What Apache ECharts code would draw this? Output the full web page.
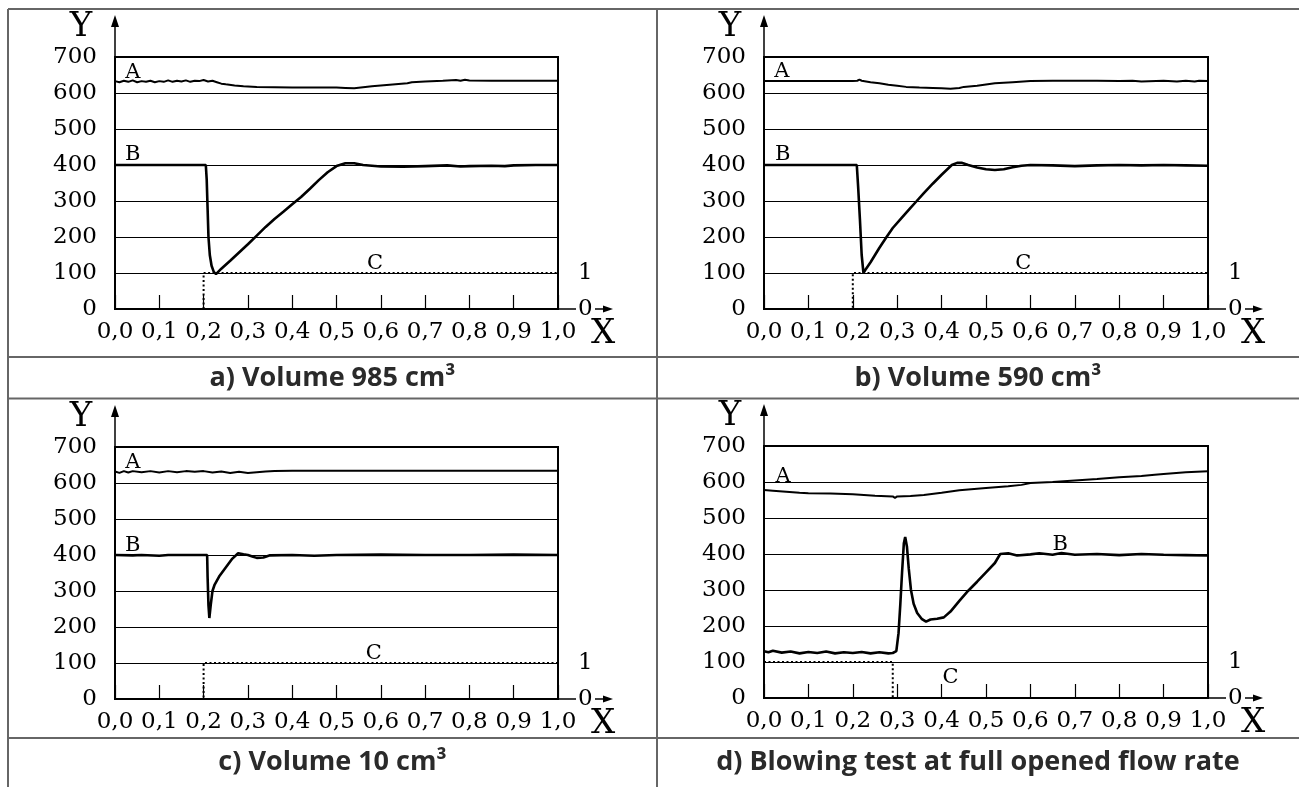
<!DOCTYPE html>
<html>
<head>
    <meta charset="utf-8">
    <title>index</title>
    <style>
        html, body { margin: 0; padding: 0; background: #fff; }
        #container { width: 1299px; height: 787px; }
    </style>
</head>
<body>
<div id="container"></div>
<script src="https://cdn.jsdelivr.net/npm/echarts@6.0.0/dist/echarts.min.js"></script>
<script type="text/javascript">
    // tick labels
    var xLabels = ['0,0', '0,1', '0,2', '0,3', '0,4', '0,5', '0,6', '0,7', '0,8', '0,9', '1,0'];
    var yTicks = [0, 100, 200, 300, 400, 500, 600, 700];
    var cTicks = [0, 1];

    // a) Volume 985 cm3
    var aA = [[0, 633], [0.01, 630], [0.02, 634], [0.03, 631], [0.04, 635], [0.05, 630], [0.06, 633], [0.07, 631],
        [0.08, 634], [0.09, 630], [0.10, 633], [0.11, 631], [0.12, 635], [0.13, 631], [0.14, 634], [0.15, 632],
        [0.16, 635], [0.17, 631], [0.18, 634], [0.19, 633], [0.20, 636], [0.21, 632], [0.22, 634], [0.23, 630],
        [0.24, 626], [0.25, 624], [0.27, 621], [0.29, 619], [0.32, 617], [0.36, 616], [0.40, 615], [0.45, 615],
        [0.50, 615], [0.52, 614], [0.54, 613], [0.56, 616], [0.58, 619], [0.62, 623], [0.66, 627], [0.67, 630],
        [0.70, 632], [0.74, 634], [0.77, 636], [0.78, 634], [0.79, 637], [0.80, 635], [0.85, 634], [0.90, 634],
        [0.95, 634], [1.0, 634]];
    var aB = [[0, 400], [0.205, 400], [0.207, 360], [0.209, 280], [0.211, 200], [0.214, 150], [0.218, 120],
        [0.223, 103], [0.228, 97], [0.24, 112], [0.26, 134], [0.28, 157], [0.30, 180], [0.32, 204], [0.34, 228],
        [0.36, 250], [0.38, 270], [0.40, 291], [0.42, 311], [0.44, 334], [0.46, 358], [0.48, 380], [0.50, 397],
        [0.52, 405], [0.54, 405], [0.56, 400], [0.60, 396], [0.65, 395], [0.70, 397], [0.75, 399], [0.78, 396],
        [0.80, 397], [0.85, 398], [0.88, 397], [0.90, 399], [0.95, 400], [1.0, 400]];
    var aC = [[0.2, 0], [0.2, 1], [1.0, 1]];

    // b) Volume 590 cm3
    var bA = [[0, 633], [0.05, 633], [0.10, 633], [0.15, 633], [0.20, 633], [0.21, 634], [0.215, 637], [0.22, 634],
        [0.24, 630], [0.26, 627], [0.28, 623], [0.30, 620], [0.32, 617], [0.35, 615], [0.38, 614], [0.40, 613],
        [0.42, 612], [0.44, 614], [0.45, 617], [0.48, 620], [0.52, 627], [0.56, 630], [0.60, 633], [0.65, 634],
        [0.70, 634], [0.75, 634], [0.80, 633], [0.83, 634], [0.85, 632], [0.90, 634], [0.93, 632], [0.95, 634],
        [0.97, 632], [0.98, 634], [1.0, 633]];
    var bB = [[0, 400], [0.209, 400], [0.212, 340], [0.216, 250], [0.220, 150], [0.224, 100], [0.23, 112],
        [0.24, 130], [0.25, 150], [0.26, 170], [0.276, 200], [0.29, 225], [0.31, 253], [0.33, 281], [0.344, 300],
        [0.36, 322], [0.38, 348], [0.40, 373], [0.423, 400], [0.435, 406], [0.445, 406], [0.46, 400], [0.48, 393],
        [0.50, 388], [0.52, 386], [0.54, 388], [0.56, 394], [0.58, 398], [0.60, 400], [0.65, 399], [0.70, 397],
        [0.75, 399], [0.80, 400], [0.85, 399], [0.90, 400], [0.95, 399], [1.0, 398]];
    var bC = [[0, 0], [0.2, 0], [0.2, 1], [1.0, 1]];

    // c) Volume 10 cm3
    var cA = [[0, 632], [0.01, 628], [0.02, 633], [0.03, 629], [0.04, 633], [0.06, 630], [0.08, 633], [0.10, 629],
        [0.12, 633], [0.14, 630], [0.16, 633], [0.18, 631], [0.20, 633], [0.22, 629], [0.24, 632], [0.26, 628],
        [0.28, 631], [0.30, 628], [0.32, 630], [0.34, 632], [0.36, 633], [0.40, 634], [0.50, 634], [0.60, 634],
        [0.70, 634], [0.80, 634], [0.90, 634], [1.0, 634]];
    var cB = [[0, 400], [0.04, 399], [0.06, 400], [0.10, 398], [0.12, 400], [0.208, 400], [0.209, 340],
        [0.211, 260], [0.213, 225], [0.216, 260], [0.22, 300], [0.225, 318], [0.235, 340], [0.25, 365],
        [0.265, 390], [0.278, 405], [0.29, 402], [0.30, 400], [0.31, 396], [0.32, 392], [0.335, 393], [0.35, 399],
        [0.40, 400], [0.45, 398], [0.50, 400], [0.60, 401], [0.70, 400], [0.80, 400], [0.90, 401], [1.0, 400]];
    var cC = [[0, 0], [0.2, 0], [0.2, 1], [1.0, 1]];

    // d) Blowing test at full opened flow rate
    var dA = [[0, 578], [0.02, 576], [0.05, 573], [0.08, 570], [0.10, 569], [0.15, 568], [0.20, 566], [0.25, 562],
        [0.29, 560], [0.295, 556], [0.30, 560], [0.33, 561], [0.36, 564], [0.40, 570], [0.44, 577], [0.50, 583],
        [0.55, 588], [0.58, 592], [0.60, 597], [0.65, 600], [0.70, 604], [0.75, 608], [0.80, 613], [0.85, 617],
        [0.88, 620], [0.90, 622], [0.95, 627], [1.0, 630]];
    var dB = [[0, 130], [0.01, 127], [0.02, 131], [0.04, 126], [0.06, 129], [0.08, 124], [0.10, 128], [0.12, 125],
        [0.14, 129], [0.16, 124], [0.18, 127], [0.20, 125], [0.22, 128], [0.24, 124], [0.26, 127], [0.28, 124],
        [0.29, 125], [0.298, 130], [0.303, 180], [0.307, 260], [0.311, 350], [0.315, 430], [0.318, 447],
        [0.322, 420], [0.326, 360], [0.331, 300], [0.337, 262], [0.345, 236], [0.355, 220], [0.365, 212],
        [0.375, 218], [0.39, 220], [0.405, 224], [0.42, 240], [0.44, 270], [0.46, 298], [0.48, 323], [0.50, 349],
        [0.52, 375], [0.532, 400], [0.55, 402], [0.57, 396], [0.60, 399], [0.62, 402], [0.65, 398], [0.67, 403],
        [0.70, 398], [0.75, 400], [0.80, 397], [0.85, 400], [0.90, 398], [0.95, 397], [1.0, 396]];
    var dC = [[0, 1], [0.29, 1], [0.29, 0], [1.0, 0]];

    var panels = [
        {A: aA, B: aB, C: aC, left: 115, top: 57, width: 443, caption: 'a) Volume 985 cm³',
            notes: [['A', 0.04, 658], ['B', 0.04, 429], ['C', 0.587, 127]]},
        {A: bA, B: bB, C: bC, left: 764, top: 57, width: 444, caption: 'b) Volume 590 cm³',
            notes: [['A', 0.04, 659], ['B', 0.042, 428], ['C', 0.584, 127]]},
        {A: cA, B: cB, C: cC, left: 115, top: 447, width: 443, caption: 'c) Volume 10 cm³',
            notes: [['A', 0.04, 656], ['B', 0.04, 427], ['C', 0.584, 127]]},
        {A: dA, B: dB, C: dC, left: 764, top: 446, width: 444, caption: 'd) Blowing test at full opened flow rate',
            notes: [['A', 0.043, 614], ['B', 0.667, 426], ['C', 0.42, 58]]}
    ];
    var plotH = 252;
    var serif = 'DejaVu Serif';

    var grids = [], xAxes = [], yAxes = [], series = [];
    panels.forEach(function (p, i) {
        grids.push({
            left: p.left, top: p.top, width: p.width, height: plotH,
            show: true, borderColor: '#000', borderWidth: 2, backgroundColor: 'transparent',
            containLabel: false, outerBoundsMode: 'none'
        });
        xAxes.push({
            type: 'value', gridIndex: i, min: 0, max: 1, interval: 0.1,
            axisLine: {show: true, lineStyle: {color: '#000', width: 2}},
            axisTick: {show: true, inside: true, length: 14, lineStyle: {color: '#000', width: 1.2}},
            axisLabel: {
                show: true, margin: 12, color: '#000', fontFamily: serif, fontSize: 23,
                formatter: function (v) { return xLabels[Math.round(v * 10)]; }
            },
            splitLine: {show: false}
        });
        yAxes.push({
            type: 'value', gridIndex: i, min: yTicks[0], max: yTicks[yTicks.length - 1],
            interval: yTicks[1] - yTicks[0],
            axisLine: {show: true, lineStyle: {color: '#000', width: 2}},
            axisTick: {show: false},
            axisLabel: {show: true, margin: 18, color: '#000', fontFamily: serif, fontSize: 23},
            splitLine: {show: true, lineStyle: {color: '#000', width: 1.2}}
        });
        yAxes.push({
            type: 'value', gridIndex: i, position: 'right', min: 0, max: 7, interval: 1,
            axisLine: {show: false},
            axisTick: {show: true, customValues: [0], length: 18, lineStyle: {color: '#000', width: 1.5}},
            axisLabel: {show: true, customValues: cTicks, margin: 20, color: '#000', fontFamily: serif, fontSize: 23},
            splitLine: {show: false}
        });
        series.push({
            type: 'line', xAxisIndex: i, yAxisIndex: 2 * i, data: p.A, showSymbol: false, silent: true,
            lineStyle: {color: '#000', width: 2}
        });
        series.push({
            type: 'line', xAxisIndex: i, yAxisIndex: 2 * i, data: p.B, showSymbol: false, silent: true,
            lineStyle: {color: '#000', width: 2.6}
        });
        series.push({
            type: 'line', xAxisIndex: i, yAxisIndex: 2 * i + 1, data: p.C, showSymbol: false, silent: true,
            lineStyle: {color: '#000', width: 2, type: [2, 2.5]}
        });
    });

    var myChart = echarts.init(document.getElementById('container'), null, {renderer: 'canvas'});
    myChart.setOption({
        animation: false,
        grid: grids,
        xAxis: xAxes,
        yAxis: yAxes,
        series: series
    });

    // table frame, captions, arrows and curve names
    var g = [];
    var frame = '#666';
    function hline(y, x1, x2) {
        g.push({type: 'line', shape: {x1: x1, y1: y, x2: x2, y2: y}, style: {stroke: frame, lineWidth: 2}, silent: true});
    }
    function vline(x, y1, y2) {
        g.push({type: 'line', shape: {x1: x, y1: y1, x2: x, y2: y2}, style: {stroke: frame, lineWidth: 2}, silent: true});
    }
    hline(9, 8, 1299);
    hline(357, 8, 1299);
    hline(398.5, 8, 1299);
    hline(738, 8, 1299);
    vline(8, 9, 787);
    vline(657, 9, 787);

    var capY = [378, 378, 762, 762];
    var capX = [332.5, 978, 332.5, 978];
    panels.forEach(function (p, i) {
        var right = p.left + p.width, bottom = p.top + plotH;
        g.push({
            type: 'text', silent: true,
            style: {
                text: p.caption, x: capX[i], y: capY[i], textAlign: 'center', textVerticalAlign: 'middle',
                font: 'bold 27px "Open Sans"', fill: '#2a2a2a'
            }
        });
        // y axis arrow
        g.push({type: 'line', silent: true, shape: {x1: p.left, y1: p.top, x2: p.left, y2: p.top - 34},
            style: {stroke: '#000', lineWidth: 1.5}});
        g.push({type: 'polygon', silent: true,
            shape: {points: [[p.left, p.top - 42], [p.left - 4, p.top - 30], [p.left + 4, p.top - 30]]},
            style: {fill: '#000'}});
        g.push({type: 'text', silent: true,
            style: {text: 'Y', x: p.left - 34, y: p.top - 30, textAlign: 'center', textVerticalAlign: 'middle',
                font: '34px "DejaVu Serif"', fill: '#000'}});
        // x axis arrow after the 0 of signal C
        g.push({type: 'line', silent: true, shape: {x1: right + 37, y1: bottom, x2: right + 47, y2: bottom},
            style: {stroke: '#000', lineWidth: 1.5}});
        g.push({type: 'polygon', silent: true,
            shape: {points: [[right + 55, bottom], [right + 45, bottom - 3.5], [right + 45, bottom + 3.5]]},
            style: {fill: '#000'}});
        g.push({type: 'text', silent: true,
            style: {text: 'X', x: right + 45, y: bottom + 25, textAlign: 'center', textVerticalAlign: 'middle',
                font: '34px "DejaVu Serif"', fill: '#000'}});
        // curve names
        p.notes.forEach(function (n) {
            var pt = myChart.convertToPixel({xAxisIndex: i, yAxisIndex: 2 * i}, [n[1], n[2]]);
            g.push({type: 'text', silent: true,
                style: {text: n[0], x: pt[0], y: pt[1], textAlign: 'center', textVerticalAlign: 'middle',
                    font: '21px "DejaVu Serif"', fill: '#000'}});
        });
    });
    myChart.setOption({graphic: g});
</script>
</body>
</html>
